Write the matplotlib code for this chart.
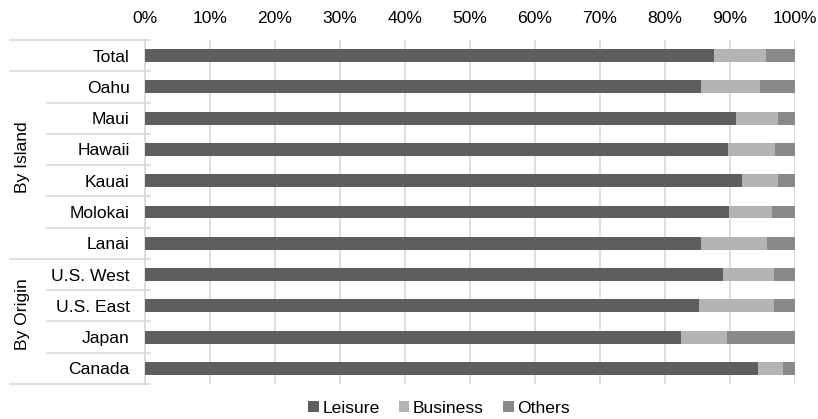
import matplotlib.pyplot as plt
import matplotlib.transforms as mtransforms
import numpy as np

plt.rcParams['font.family'] = ['Liberation Sans', 'DejaVu Sans']

# Part des visiteurs par motif de voyage (%)
categories = ['Total', 'Oahu', 'Maui', 'Hawaii', 'Kauai', 'Molokai', 'Lanai',
              'U.S. West', 'U.S. East', 'Japan', 'Canada']
leisure = [87.5, 85.5, 90.9, 89.7, 91.8, 89.8, 85.6, 88.9, 85.2, 82.5, 94.3]
business = [8.1, 9.1, 6.5, 7.2, 5.6, 6.6, 10.1, 7.8, 11.5, 7.0, 3.9]
others = [round(100 - l - b, 1) for l, b in zip(leisure, business)]

groups = [('By Island', 1, 6), ('By Origin', 7, 10)]
xticks = list(range(0, 101, 10))
xtick_labels = [f'{v}%' for v in xticks]

C_LEISURE = '#5e5e5e'
C_BUSINESS = '#b4b4b4'
C_OTHERS = '#898989'
C_GRID = '#d9d9d9'
FS = 12.6

W, H = 818, 419
fig = plt.figure(figsize=(W / 100, H / 100), dpi=100)
ax = fig.add_axes([145 / W, 1 - 384 / H, 650 / W, 344 / H])

y = np.arange(len(categories))
bh = 0.41
ax.barh(y, leisure, height=bh, color=C_LEISURE, label='Leisure', zorder=3)
ax.barh(y, business, left=leisure, height=bh, color=C_BUSINESS,
        label='Business', zorder=3)
left_o = np.array(leisure) + np.array(business)
ax.barh(y, others, left=left_o, height=bh, color=C_OTHERS,
        label='Others', zorder=3)

ax.set_xlim(0, 100)
ax.set_ylim(len(categories) - 0.5, -0.5)
ax.xaxis.tick_top()
ax.set_xticks(xticks)
ax.set_xticklabels(xtick_labels, fontsize=FS)
ax.tick_params(axis='x', length=0, pad=10)
ax.set_yticks(y)
ax.set_yticklabels(categories, fontsize=FS)
ax.tick_params(axis='y', length=0, pad=11)
ax.grid(axis='x', color=C_GRID, linewidth=1.2, zorder=0)
for s in ['top', 'right', 'bottom']:
    ax.spines[s].set_visible(False)
ax.spines['left'].set_color(C_GRID)
ax.spines['left'].set_linewidth(1.2)

# Lignes de séparation des catégories (à gauche de l'axe)
trans = mtransforms.blended_transform_factory(fig.transFigure, ax.transData)
long_lines = [-0.5, 0.5, 6.5, 10.5]
short_lines = [1.5, 2.5, 3.5, 4.5, 5.5, 7.5, 8.5, 9.5]
for yy in long_lines:
    ax.plot([10 / W, 150 / W], [yy, yy], transform=trans, color=C_GRID,
            linewidth=1.2, clip_on=False)
for yy in short_lines:
    ax.plot([47 / W, 150 / W], [yy, yy], transform=trans, color=C_GRID,
            linewidth=1.2, clip_on=False)

for name, r0, r1 in groups:
    ax.text(22 / W, (r0 + r1) / 2 - 0.25, name, transform=trans, rotation=90,
            ha='center', va='center', fontsize=FS)

fig.legend(loc='center', bbox_to_anchor=(439 / W, 1 - 408 / H), ncol=3,
           frameon=False, fontsize=FS, handlelength=0.6, handleheight=0.6,
           handletextpad=0.2, columnspacing=1.1, borderpad=0)

fig.savefig('out.png', dpi=100)
